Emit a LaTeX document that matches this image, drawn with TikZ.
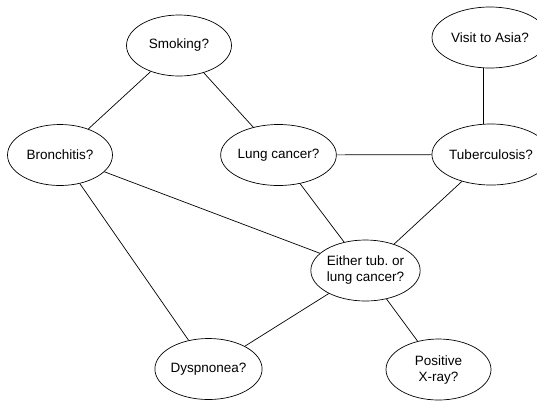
\documentclass[tikz,border=0pt]{standalone}
\usepackage{fontspec}
\setmainfont{Liberation Sans}
\usetikzlibrary{shapes.geometric}
\begin{document}
\begin{tikzpicture}[x=1pt,y=-1pt,
  var/.style={ellipse,draw,line width=0.7pt,minimum width=105pt,minimum height=61pt,
    inner sep=0pt,align=center,font=\fontsize{13.5}{16}\selectfont},
  wide/.style={minimum width=116pt},
  link/.style={line width=0.7pt}]
\useasboundingbox (0,0) rectangle (537,400);
\node[var] (smoke) at (179,45.5) {Smoking?};
\node[var] (bronch) at (60,155) {Bronchitis?};
\node[var] (lung) at (278.5,155) {Lung cancer?};
\node[var,wide] (asia) at (490,37.5) {Visit to Asia?};
\node[var,wide] (tub) at (491,154.5) {Tuberculosis?};
\node[var] (either) at (365.5,270.5) {Either tub.\ or\\lung cancer?};
\node[var] (dysp) at (208.5,369) {Dyspnonea?};
\node[var] (xray) at (438.5,369.5) {Positive\\X-ray?};
\draw[link] (smoke) -- (bronch);
\draw[link] (smoke) -- (lung);
\draw[link] (bronch) -- (either);
\draw[link] (bronch) -- (dysp);
\draw[link] (lung) -- (tub);
\draw[link] (lung) -- (either);
\draw[link] ([xshift=-7pt]asia.south) -- ([xshift=-8pt]tub.north);
\draw[link] (tub) -- (either);
\draw[link] (either) -- (dysp);
\draw[link] (either) -- (xray);
\end{tikzpicture}
\end{document}
